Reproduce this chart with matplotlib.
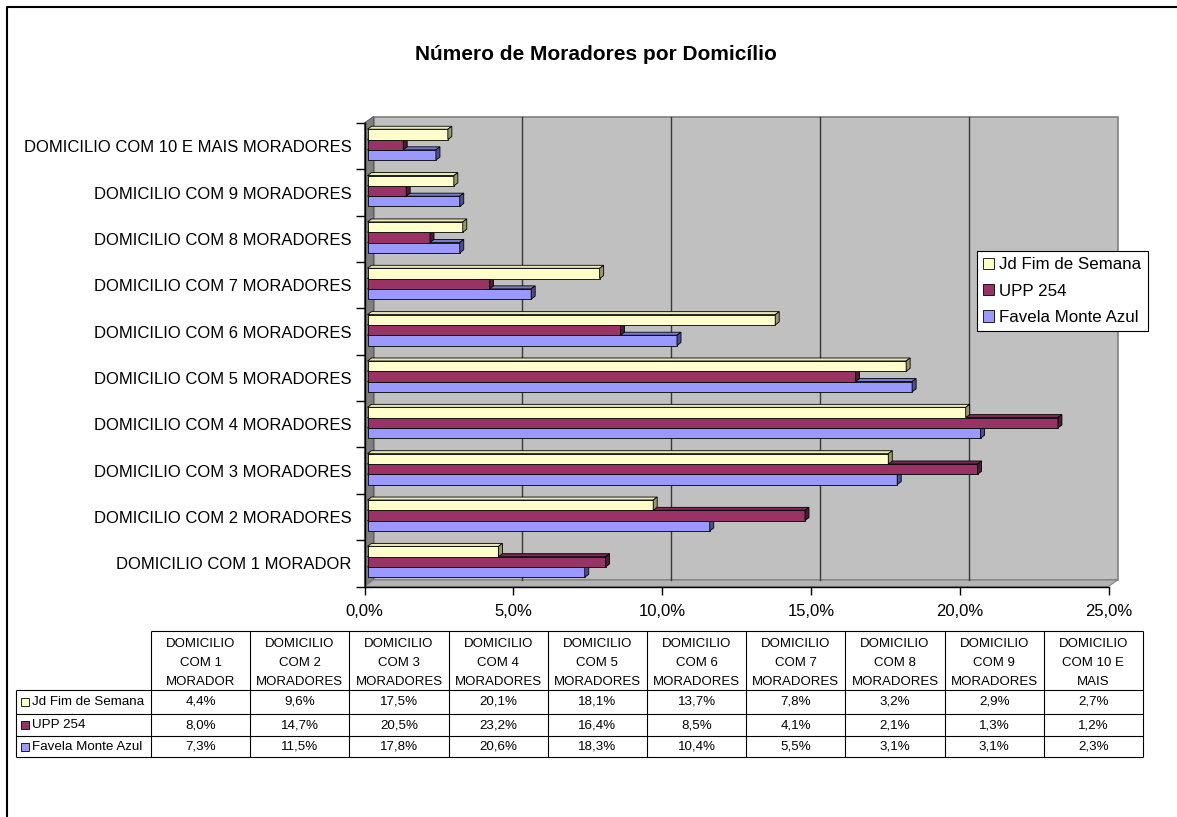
import numpy as np
import matplotlib
matplotlib.use('Agg')
import matplotlib.pyplot as plt
from matplotlib.patches import Polygon, Rectangle, Patch

plt.rcParams['font.family'] = ['Liberation Sans', 'DejaVu Sans']

TITLE = 'Número de Moradores por Domicílio'
CATEGORIES = [
    'DOMICILIO COM 1 MORADOR',
    'DOMICILIO COM 2 MORADORES',
    'DOMICILIO COM 3 MORADORES',
    'DOMICILIO COM 4 MORADORES',
    'DOMICILIO COM 5 MORADORES',
    'DOMICILIO COM 6 MORADORES',
    'DOMICILIO COM 7 MORADORES',
    'DOMICILIO COM 8 MORADORES',
    'DOMICILIO COM 9 MORADORES',
    'DOMICILIO COM 10 E MAIS MORADORES',
]
TABLE_HEADERS = [
    'DOMICILIO\nCOM 1\nMORADOR',
    'DOMICILIO\nCOM 2\nMORADORES',
    'DOMICILIO\nCOM 3\nMORADORES',
    'DOMICILIO\nCOM 4\nMORADORES',
    'DOMICILIO\nCOM 5\nMORADORES',
    'DOMICILIO\nCOM 6\nMORADORES',
    'DOMICILIO\nCOM 7\nMORADORES',
    'DOMICILIO\nCOM 8\nMORADORES',
    'DOMICILIO\nCOM 9\nMORADORES',
    'DOMICILIO\nCOM 10 E\nMAIS',
]
SERIES = ['Jd Fim de Semana', 'UPP 254', 'Favela Monte Azul']
JD_FIM_DE_SEMANA = [4.4, 9.6, 17.5, 20.1, 18.1, 13.7, 7.8, 3.2, 2.9, 2.7]
UPP_254 = [8.0, 14.7, 20.5, 23.2, 16.4, 8.5, 4.1, 2.1, 1.3, 1.2]
FAVELA_MONTE_AZUL = [7.3, 11.5, 17.8, 20.6, 18.3, 10.4, 5.5, 3.1, 3.1, 2.3]
X_TICKS = [0, 5, 10, 15, 20, 25]

FACE_COLORS = ['#FFFFCC', '#993366', '#9999FF']
TOP_COLORS = ['#E8E8B8', '#7A2952', '#7A7ACC']
SIDE_COLORS = ['#999966', '#4D1A33', '#4D4D99']

W, H = 1177, 817


def pct(v):
    return f'{v:.1f}%'.replace('.', ',')


def fig_box(x0, y0, x1, y1):
    # pixel box measured from the top-left corner -> figure fraction
    return [x0 / W, 1 - y1 / H, (x1 - x0) / W, (y1 - y0) / H]


fig = plt.figure(figsize=(W / 100, H / 100), dpi=100)

ax = fig.add_axes(fig_box(364.5, 123, 1108.5, 586.5))
ax.set_xlim(0, 25)
ax.set_ylim(-0.5, 9.5)
ax.patch.set_visible(False)
for side in ['top', 'right']:
    ax.spines[side].set_visible(False)
for side in ['left', 'bottom']:
    ax.spines[side].set_linewidth(1.0)
    ax.spines[side].set_zorder(6)

bb = ax.get_position()
ux = 25 / (bb.width * W)
uy = 10 / (bb.height * H)


def px(dx, dy):
    return dx * ux, dy * uy


# back wall, side wall and floor
wx, wy = px(9, 6.5)
ax.add_patch(Polygon([(wx, -0.5 + wy), (25 + wx, -0.5 + wy), (25 + wx, 9.5 + wy), (wx, 9.5 + wy)],
                     closed=True, fc='#C0C0C0', ec='#808080', lw=1.2, clip_on=False, zorder=0.5))
ax.add_patch(Polygon([(0, -0.5), (wx, -0.5 + wy), (wx, 9.5 + wy), (0, 9.5)],
                     closed=True, fc='#808080', ec='#606060', lw=0.8, clip_on=False, zorder=0.6))
ax.add_patch(Polygon([(0, -0.5), (25, -0.5), (25 + wx, -0.5 + wy), (wx, -0.5 + wy)],
                     closed=True, fc='#B4B4B4', ec='#808080', lw=0.8, clip_on=False, zorder=0.6))
for t in X_TICKS[1:-1]:
    ax.plot([t + wx, t + wx], [-0.5 + wy, 9.5 + wy], color='#383838', lw=1.0,
            clip_on=False, zorder=0.7)

# 3d-ish bars
values = [JD_FIM_DE_SEMANA, UPP_254, FAVELA_MONTE_AZUL]
bh = 0.222
offsets = [bh, 0.0, -bh]
sx, sy = px(3, 1.5)
ddx, ddy = px(4, 3)
y = np.arange(len(CATEGORIES))

for s in [2, 1, 0]:
    z = 3 - s
    ax.barh(y + offsets[s] + sy, values[s], height=bh, left=sx, color=FACE_COLORS[s],
            edgecolor='black', linewidth=0.6, zorder=z, clip_on=False)
    for i, v in enumerate(values[s]):
        yb = i + offsets[s] + sy - bh / 2
        yt = yb + bh
        x1 = sx + v
        ax.add_patch(Polygon([(sx, yt), (x1, yt), (x1 + ddx, yt + ddy), (sx + ddx, yt + ddy)],
                             closed=True, fc=TOP_COLORS[s], ec='black', lw=0.6,
                             zorder=z, clip_on=False))
        ax.add_patch(Polygon([(x1, yb), (x1 + ddx, yb + ddy), (x1 + ddx, yt + ddy), (x1, yt)],
                             closed=True, fc=SIDE_COLORS[s], ec='black', lw=0.6,
                             zorder=z, clip_on=False))

ax.set_xticks(X_TICKS)
ax.set_xticklabels([pct(t) for t in X_TICKS], fontsize=12)
ax.tick_params(axis='x', direction='out', length=5.8, width=1.0, pad=6.8)
ax.set_yticks(y)
ax.set_yticklabels(CATEGORIES, fontsize=12)
ax.tick_params(axis='y', which='major', length=0, pad=9.5)
ax.set_yticks(np.arange(-0.5, 10, 1), minor=True)
ax.tick_params(axis='y', which='minor', direction='out', length=6.5, width=1.0)

fig.text(596 / W, 1 - 55 / H, TITLE, ha='center', va='center', fontsize=15, fontweight='bold')

handles = [Patch(facecolor=FACE_COLORS[s], edgecolor='black', linewidth=0.6, label=SERIES[s])
           for s in range(3)]
leg = fig.legend(handles=handles, loc='upper left', bbox_to_anchor=(976.7 / W, 1 - 251 / H),
                 fontsize=12.2, frameon=True, fancybox=False, edgecolor='black', framealpha=1,
                 borderaxespad=0, handlelength=0.65, handleheight=0.65, handletextpad=0.3,
                 labelspacing=0.66, borderpad=0.38)
leg.get_frame().set_linewidth(0.8)

# data table below the chart, drawn in pixel coordinates
tax = fig.add_axes([0, 0, 1, 1])
tax.set_xlim(0, W)
tax.set_ylim(H, 0)
tax.axis('off')

col_edges = np.linspace(151, 1143, len(CATEGORIES) + 1)
row_edges = [631, 690, 714, 736, 757]
label_left = 16
line_kw = dict(colors='black', linewidth=0.8)

tax.hlines(row_edges[0], col_edges[0], col_edges[-1], **line_kw)
tax.hlines(row_edges[1:], label_left, col_edges[-1], **line_kw)
tax.vlines(col_edges, row_edges[0], row_edges[-1], **line_kw)
tax.vlines(label_left, row_edges[1], row_edges[-1], **line_kw)

col_centers = (col_edges[:-1] + col_edges[1:]) / 2
for j, head in enumerate(TABLE_HEADERS):
    tax.text(col_centers[j], (row_edges[0] + row_edges[1]) / 2 + 2.5, head, ha='center', va='center',
             fontsize=9.5, linespacing=1.82, multialignment='center')

for s in range(3):
    yc = (row_edges[s + 1] + row_edges[s + 2]) / 2
    tax.add_patch(Rectangle((21, yc - 4), 8, 8, fc=FACE_COLORS[s], ec='black', lw=0.6))
    tax.text(32, yc, SERIES[s], ha='left', va='center', fontsize=9.6)
    for j, v in enumerate(values[s]):
        tax.text(col_centers[j], yc, pct(v), ha='center', va='center', fontsize=9.6)

# chart area border (only left and top edges are inside the picture)
tax.plot([7, 7, W + 5], [H + 5, 7, 7], color='black', lw=1.5, clip_on=False)

fig.savefig('out.png', dpi=100)
